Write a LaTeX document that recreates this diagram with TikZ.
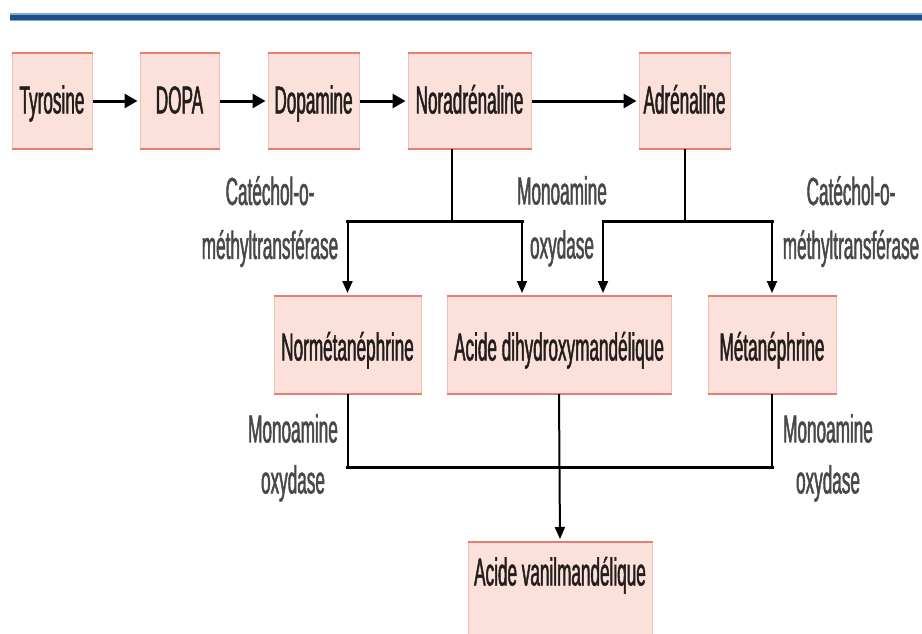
\documentclass[tikz,border=0pt]{standalone}
\usepackage{fontspec}
\setmainfont[FakeStretch=0.44,FakeBold=1.2]{Liberation Sans}
\usetikzlibrary{arrows.meta}
\definecolor{boxfill}{RGB}{251,225,217}
\definecolor{boxside}{RGB}{242,192,180}
\definecolor{boxedge}{RGB}{226,128,114}
\definecolor{topblue}{RGB}{30,78,140}
\definecolor{toplight}{RGB}{130,170,210}
\definecolor{labgray}{RGB}{72,72,72}
\definecolor{txt}{RGB}{35,30,30}
\begin{document}
\begin{tikzpicture}[x=1pt,y=-1pt,
  box/.style={fill=boxfill, draw=boxside, line width=1pt, inner sep=0pt, text=txt,
    font=\fontsize{39}{44}\selectfont},
  toprow/.style={box, text height=60pt, text depth=35pt},
  midrow/.style={box, text height=64pt, text depth=33pt},
  lab/.style={align=center, inner sep=0pt, anchor=north, text=labgray},
  labA/.style={lab, font=\fontsize{39}{54}\selectfont},
  labB/.style={lab, font=\fontsize{39}{51}\selectfont},
  mainarr/.style={line width=3pt, -{Triangle[length=13pt,width=14pt]}, shorten >=2pt},
  branch/.style={line width=2pt},
  bar/.style={line width=3pt, line cap=rect},
  darr/.style={line width=2pt, -{Triangle[length=12pt,width=10pt]}, shorten >=3pt},
  edgeline/.style={boxedge, line width=2pt},
]
\clip (0,0) rectangle (922,633);
\fill[white] (0,0) rectangle (922,633);
% top rule
\draw[toplight, line width=8pt] (10,17) -- (922,17);
\draw[topblue, line width=5pt] (10,17) -- (922,17);

% top row
\node[toprow, minimum width=80] (tyr) at (52,53) [anchor=north] {Tyrosine};
\node[toprow, minimum width=79] (dopa) at (179.5,53) [anchor=north] {DOPA};
\node[toprow, minimum width=91] (dopam) at (313.5,53) [anchor=north] {Dopamine};
\node[toprow, minimum width=123] (nor) at (469.5,53) [anchor=north] {Noradrénaline};
\node[toprow, minimum width=91] (adr) at (684.5,53) [anchor=north] {Adrénaline};
% middle row
\node[midrow, minimum width=147] (normet) at (347.5,296) [anchor=north] {Normétanéphrine};
\node[midrow, minimum width=224] (dhm) at (559,296) [anchor=north] {Acide dihydroxymandélique};
\node[midrow, minimum width=128] (met) at (772,296) [anchor=north] {Métanéphrine};
% bottom
\node[box, minimum width=184, text height=43pt, text depth=60pt] (vma) at (560,542) [anchor=north] {Acide vanilmandélique};

\foreach \n in {tyr,dopa,dopam,nor,adr,normet,dhm,met,vma}{
  \draw[edgeline] (\n.north west) -- (\n.north east);
  \draw[edgeline] (\n.south west) -- (\n.south east);
}

% labels
\node[labA] (cmtL) at (270,176) {Catéchol-o-\\méthyltransférase};
\node[labA] (maoM) at (562,176) {Monoamine\\oxydase};
\node[labA] (cmtR) at (851,176) {Catéchol-o-\\méthyltransférase};
\node[labB] (maoL) at (293,414) {Monoamine\\oxydase};
\node[labB] (maoR) at (828,414) {Monoamine\\oxydase};

% main chain
\draw[mainarr] (tyr) -- (dopa);
\draw[mainarr] (dopa) -- (dopam);
\draw[mainarr] (dopam) -- (nor);
\draw[mainarr] (nor) -- (adr);

% branch from noradrenaline
\coordinate (nJ) at (452,221);
\coordinate (nL) at (347.5,221);
\coordinate (nR) at (522,221);
\draw[branch] (nor.south -| nJ) -- (nJ);
\draw[bar] (nL) -- (nR);
\draw[darr] (nL) -- (normet.north);
\draw[darr] (nR) -- (nR |- dhm.north);

% branch from adrenaline
\coordinate (aJ) at (684.5,221);
\coordinate (aL) at (603,221);
\coordinate (aR) at (772,221);
\draw[branch] (adr.south) -- (aJ);
\draw[bar] (aL) -- (aR);
\draw[darr] (aL) -- (aL |- dhm.north);
\draw[darr] (aR) -- (met.north);

% bottom merge
\coordinate (bL) at (347.5,467);
\coordinate (bR) at (772,467);
\draw[branch] (normet.south) -- (bL);
\draw[branch] (met.south) -- (bR);
\draw[bar] (bL) -- (bR);
\draw[darr] (dhm.south) -- (vma.north);
\end{tikzpicture}
\end{document}
